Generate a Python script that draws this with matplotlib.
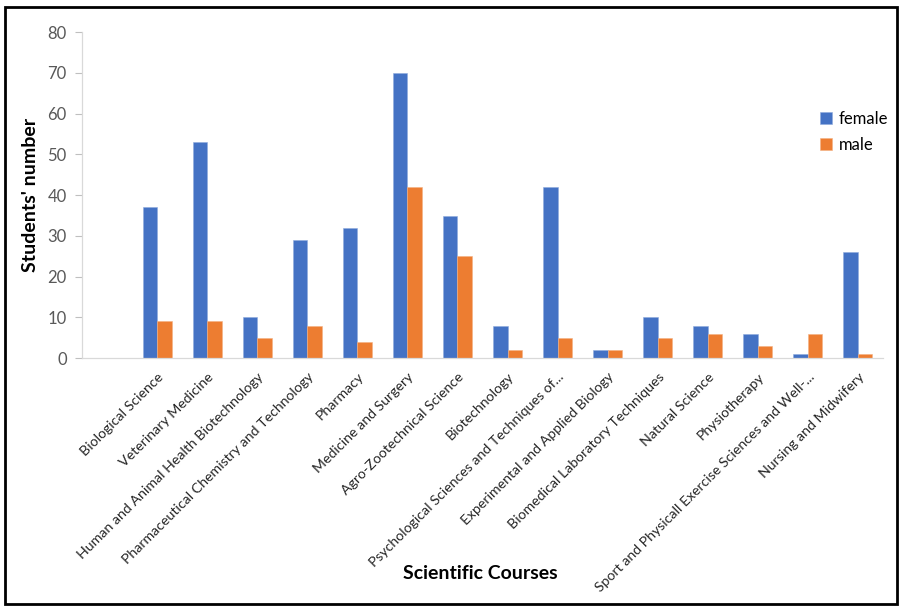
import matplotlib
matplotlib.use("Agg")
import matplotlib.pyplot as plt
import numpy as np
from matplotlib.patches import Rectangle

courses = ["", "Biological Science", "Veterinary Medicine",
           "Human and Animal Health Biotechnology",
           "Pharmaceutical Chemistry and Technology", "Pharmacy",
           "Medicine and Surgery", "Agro-Zootechnical Science", "Biotechnology",
           "Psychological Sciences and Techniques of...",
           "Experimental and Applied Biology",
           "Biomedical Laboratory Techniques", "Natural Science", "Physiotherapy",
           "Sport and Physicall Exercise Sciences and Well-...",
           "Nursing and Midwifery"]
female = [0, 37, 53, 10, 29, 32, 70, 35, 8, 42, 2, 10, 8, 6, 1, 26]
male = [0, 9, 9, 5, 8, 4, 42, 25, 2, 5, 2, 5, 6, 3, 6, 1]

plt.rcParams['font.family'] = ['Lato', 'DejaVu Sans']

fig = plt.figure(figsize=(9.01, 6.06), dpi=100)
ax = fig.add_axes([0.091, 0.409, 0.889, 0.538])

x = np.arange(len(courses))
w = 0.29
blue = "#4472C4"
orange = "#ED7D31"
ax.bar(x - w / 2, female, w, color=blue, label="female", edgecolor="#8FAADC", linewidth=0.4)
ax.bar(x + w / 2, male, w, color=orange, label="male", edgecolor="#F4B183", linewidth=0.4)

ax.set_xlim(-0.5, len(courses) - 0.5)
ax.set_ylim(0, 80)
ax.set_yticks(range(0, 81, 10))
ax.tick_params(axis='y', colors="#595959", labelsize=12, length=5, width=0.8,
               color="#BFBFBF", pad=6)
ax.set_xticks(x)
ax.set_xticklabels(courses, rotation=45, ha='right', va='top',
                   rotation_mode='anchor', fontsize=10.2, color="#262626")
ax.tick_params(axis='x', length=0, pad=9)

for side in ["top", "right"]:
    ax.spines[side].set_visible(False)
ax.spines["left"].set_color("#D9D9D9")
ax.spines["bottom"].set_color("#D9D9D9")
ax.spines["left"].set_linewidth(0.9)
ax.spines["bottom"].set_linewidth(0.9)

ax.set_ylabel("Students' number", fontsize=14, fontweight='bold', labelpad=6)
fig.text(0.533, 0.054, "Scientific Courses", fontsize=14, fontweight='bold',
         ha='center', va='center')

leg = ax.legend(loc='upper right', bbox_to_anchor=(1.025, 0.805), frameon=False,
                fontsize=12, handlelength=0.7, handleheight=0.7,
                handletextpad=0.4, labelspacing=0.6)

fig.patches.append(Rectangle((0.006, 0.003), 0.99, 0.985, transform=fig.transFigure,
                             fill=False, edgecolor="black", linewidth=2))

fig.savefig("out.png", dpi=100)
